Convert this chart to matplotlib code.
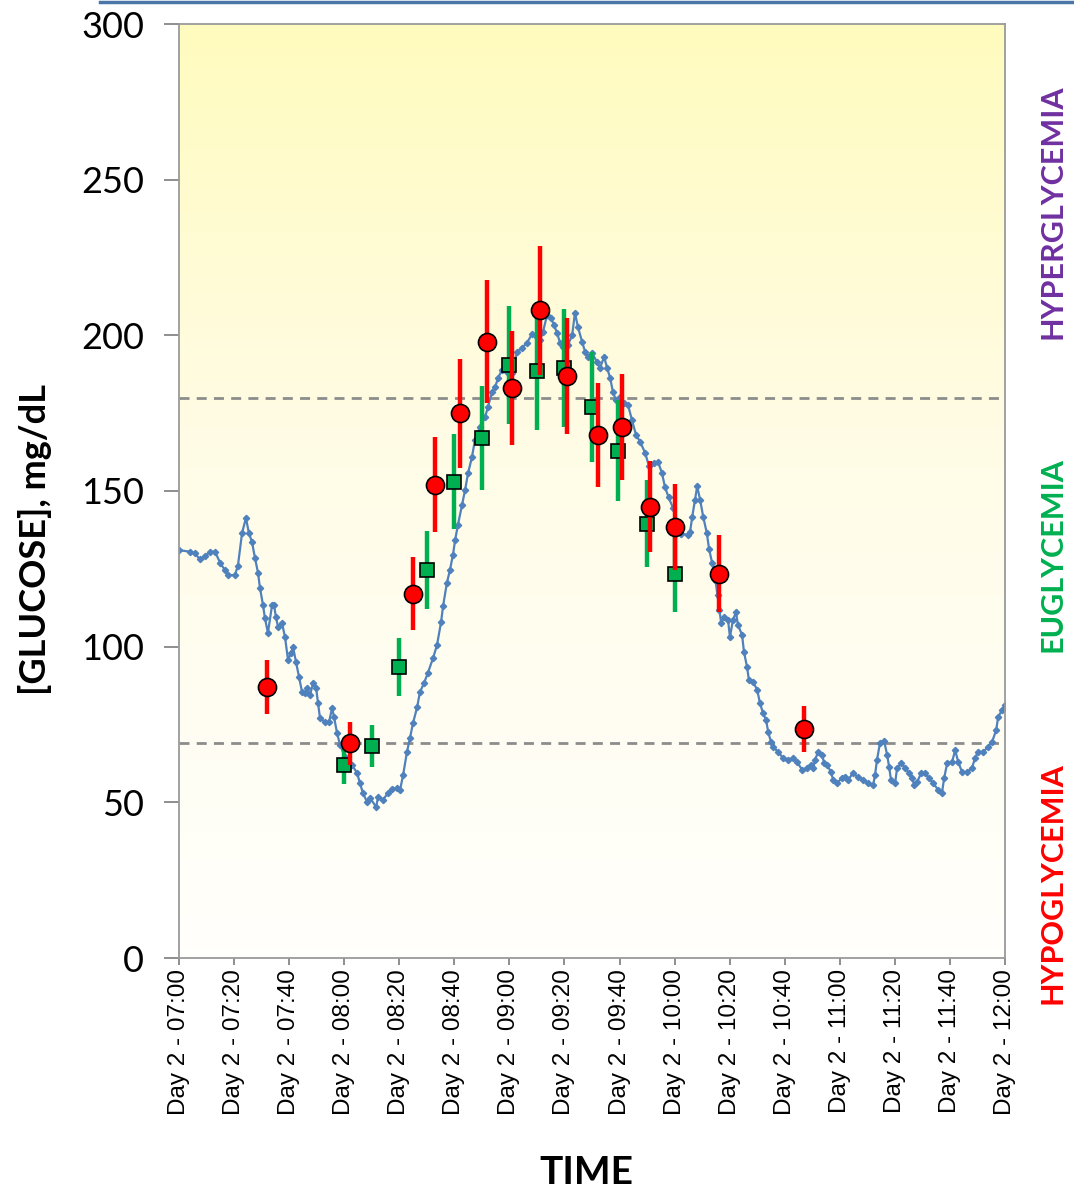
##Glucose chart for day 2, 07:00 to 12:00
##CGM trace plus two reference meters with their error bars

import numpy as np
import matplotlib
matplotlib.use('Agg')
import matplotlib.pyplot as plt
from matplotlib.colors import LinearSegmentedColormap
from matplotlib.lines import Line2D

####Data (minutes after 07:00)
cgmTime = [0, 4, 5.8, 7.6, 9.4, 11.3, 13.1, 14.9, 16.7, 17.8, 20.3, 21.4, 22.9, 24.3,
           25.4, 26.5, 27.6, 28.7, 29.4, 30.5, 31.2, 32.3, 33.8, 34.5, 35.2, 36, 37.4,
           38.5, 39.6, 40.7, 41.4, 42.5, 43.6, 44.7, 45.8, 46.5, 47.6, 48.7, 49.8,
           50.5, 51.2, 53, 54.5, 55.6, 56.3, 57.4, 58.5, 60.3, 62.8, 64.7, 65.7, 66.8,
           68.3, 69.4, 71.6, 72.3, 74.1, 75.9, 77.4, 79.2, 80.3, 81.4, 82.8, 83.9, 85,
           86.5, 87.5, 89, 90.4, 92.3, 93.7, 95.2, 95.9, 97.3, 98.4, 99.5, 100.3,
           101.3, 102.8, 103.9, 105, 106.4, 107.5, 109.3, 111.2, 112.2, 113.7, 114.8,
           115.9, 117.3, 119.1, 121, 122.8, 124.6, 126.4, 128.2, 130, 131.1, 132.2,
           133.7, 135.1, 136.2, 137.3, 138.4, 139.5, 141.3, 142.8, 143.8, 144.9,
           146.4, 147.5, 148.6, 150, 151.8, 152.9, 154.4, 155.5, 156.6, 157.6, 158.7,
           160.2, 161.6, 163.1, 164.5, 166, 167.5, 169.3, 170.7, 172.5, 174, 175.4,
           176.5, 177.8, 179.4, 181, 182.5, 184.7, 185.6, 186.4, 187.4, 188.2, 189.3,
           190.4, 191.7, 192.5, 193.6, 194.9, 195.6, 196.3, 196.9, 198, 199.4, 200.1,
           201.2, 202.3, 203, 204.5, 205.2, 206.3, 207, 208.5, 210, 211, 212.1, 213.2,
           214, 215, 215.8, 217.6, 219.4, 221.2, 223, 224.5, 226.3, 228.1, 229.6,
           230.3, 231, 232.1, 233.6, 234.3, 235.4, 236.8, 237.6, 239, 240.8, 241.9,
           243, 244.8, 246.6, 248.5, 250.3, 252.1, 252.8, 253.5, 254.6, 256.1, 257.2,
           257.9, 258.6, 260.1, 260.8, 262.3, 263.7, 265.2, 266.3, 267, 268.1, 269.5,
           271, 272.4, 273.9, 275.7, 277.1, 277.9, 279, 280.8, 281.9, 283, 284.4,
           286.2, 288, 289.1, 290.2, 292, 293.9, 295.3, 296.8, 297.5, 299, 300]
cgmValue = [131, 130.5, 130, 128, 129, 130.5, 130.5, 127, 124.5, 123, 123, 126, 136.5, 141.3,
            136.5, 133.6, 128.5, 123.7, 118.9, 113.4, 109.2, 104.4, 113.4, 113.4, 109.5,
            106.3, 107.6, 103.1, 95.7, 98, 99.9, 95.1, 90.3, 85.4, 85.1, 86.7, 84.5,
            88.3, 86.7, 81.9, 77.1, 75.8, 75.8, 80.3, 77.4, 72.3, 68.4, 64.6, 62, 59.4,
            56.2, 53, 50.1, 51.4, 48.5, 51.7, 50.8, 53, 54.3, 54.6, 54, 58.8, 66.2,
            70.7, 75.5, 80.6, 85.4, 88.3, 91.6, 96.4, 100.5, 108, 113, 120.5, 124.6,
            129.5, 134.3, 139.1, 145.5, 150.3, 155.8, 160.9, 166.4, 170.6, 173.8, 177,
            181.8, 183.4, 186.3, 188.9, 188.2, 188, 194.7, 196, 197.6, 200.4, 199.5,
            198.5, 201.1, 206.6, 205.6, 203.3, 200.8, 197.6, 196.3, 196.9, 200.1, 207.2,
            202.7, 197.9, 194.7, 193.1, 194.3, 191.5, 189.5, 193.1, 189.5, 186.3, 181.8,
            179.2, 180.2, 178.3, 177.6, 172.8, 168, 165.8, 162.2, 158, 159, 159.3,
            155.8, 151.3, 148, 144.6, 140, 136.2, 136, 136.8, 141.7, 147.1, 151.5, 147,
            141.7, 136.5, 131.5, 127, 121, 116.5, 111.8, 107.6, 109.5, 108.6, 103.1,
            108.6, 111.1, 107, 103.8, 98.3, 93.5, 89.3, 88.7, 86.1, 81.9, 78.7, 76.5,
            72.6, 69.4, 67.8, 66.2, 64.2, 63.6, 64.2, 63, 60.4, 61, 62, 61, 63.6, 66.2,
            65.2, 62.6, 62, 59.7, 57.2, 56.2, 57.8, 58.1, 57.2, 59.4, 58.1, 57.2, 56.2,
            55.6, 58.8, 63.6, 69.1, 69.7, 65.2, 61.4, 57.2, 56.2, 61, 62.6, 61, 59.4,
            57.8, 55.6, 56.5, 59.4, 59.4, 57.8, 56.2, 54, 53, 57.8, 62.6, 63, 66.8, 63,
            59.7, 59.7, 61, 64.2, 66.2, 66.2, 67.8, 69.4, 73.2, 77.4, 79.7, 81.3]

##red circles
refTime = [32, 62, 85, 93, 102, 112, 121, 131, 141, 152, 161, 171, 180, 196, 227]
refValue = [87, 69, 117, 152, 175, 198, 183, 208, 187, 168, 170.5, 145, 138.5, 123.5, 73.5]
refErr = [8.7, 6.9, 11.7, 15.2, 17.5, 19.8, 18.3, 20.8, 18.7, 16.8, 17, 14.5, 13.9, 12.4, 7.4]

##green squares
meterTime = [60, 70, 80, 90, 100, 110, 120, 130, 140, 150, 159.5, 170, 180]
meterValue = [62, 68, 93.5, 124.5, 153, 167, 190.5, 188.5, 189.5, 177, 163, 139.5, 123.5]
meterErr = [6.2, 6.8, 9.4, 12.5, 15.3, 16.7, 19, 18.9, 19, 17.7, 16.3, 14, 12.4]

hyperLimit = 180
hypoLimit = 69

tickTimes = list(range(0, 301, 20))
tickLabels = ['Day 2 - 07:00', 'Day 2 - 07:20', 'Day 2 - 07:40', 'Day 2 - 08:00',
              'Day 2 - 08:20', 'Day 2 - 08:40', 'Day 2 - 09:00', 'Day 2 - 09:20',
              'Day 2 - 09:40', 'Day 2 - 10:00', 'Day 2 - 10:20', 'Day 2 - 10:40',
              'Day 2 - 11:00', 'Day 2 - 11:20', 'Day 2 - 11:40', 'Day 2 - 12:00']

####Figure
fig = plt.figure(figsize=(10.74, 11.9), dpi=100)
ax = fig.add_axes([179/1074, 1 - 958/1190, 826/1074, 934/1190])

##yellow fade in the plot area, strongest at the top
fade = LinearSegmentedColormap.from_list('fade', ['#FFFFFB', '#FFFCE6', '#FFFBBE'])
ax.imshow(np.linspace(0, 1, 256)[::-1, None] ** 1.15, extent=[0, 300, 0, 300], aspect='auto',
          cmap=fade, zorder=0, interpolation='bilinear')

ax.plot([0, 298], [hyperLimit, hyperLimit], color='#8C8C8C', lw=2, dashes=(3.6, 2.6), zorder=1)
ax.plot([0, 298], [hypoLimit, hypoLimit], color='#8C8C8C', lw=2, dashes=(3.6, 2.6), zorder=1)

ax.plot(cgmTime, cgmValue, color='#4F81BD', lw=1.6, marker='D', ms=3.2, zorder=2)

ax.errorbar(meterTime, meterValue, yerr=meterErr, fmt='s', color='#00B050', ecolor='#00B050',
            elinewidth=3.2, capsize=0, ms=10, mec='black', mew=1.2, zorder=3)
ax.errorbar(refTime, refValue, yerr=refErr, fmt='o', color='#FF0000', ecolor='#FF0000',
            elinewidth=3.2, capsize=0, ms=13, mec='black', mew=1.2, zorder=4)

ax.set_xlim(0, 300)
ax.set_ylim(0, 300)
ax.set_xticks(tickTimes)
ax.set_xticklabels(tickLabels, rotation=90, fontsize=17.5, family='Liberation Sans')
ax.set_yticks(range(0, 301, 50))
ax.set_yticklabels([str(v) for v in range(0, 301, 50)], fontsize=26, family='Lato')
ax.tick_params(axis='y', length=11, width=1.3, color='#868686', pad=14)
ax.tick_params(axis='x', length=5, width=1.3, color='#868686', pad=3)
for side in ['left', 'bottom', 'top', 'right']:
    ax.spines[side].set_color('#9A9A9A')
    ax.spines[side].set_linewidth(1.3)

fig.text(35/1074, 1 - 540/1190, '[GLUCOSE], mg/dL', rotation=90, ha='center', va='center',
         fontsize=26, fontweight='bold', family='Lato')
fig.text(586/1074, 1 - 1172/1190, 'TIME', ha='center', va='center',
         fontsize=28, fontweight='bold', family='Lato')

fig.text(1053/1074, 1 - 212/1190, 'HYPERGLYCEMIA', rotation=90, ha='center', va='center',
         fontsize=22, fontweight='bold', family='Lato', color='#7030A0')
fig.text(1053/1074, 1 - 555/1190, 'EUGLYCEMIA', rotation=90, ha='center', va='center',
         fontsize=22, fontweight='bold', family='Lato', color='#00B050')
fig.text(1053/1074, 1 - 883/1190, 'HYPOGLYCEMIA', rotation=90, ha='center', va='center',
         fontsize=22, fontweight='bold', family='Lato', color='#FF0000')

##header rule
fig.add_artist(Line2D([100/1074, 1], [1 - 1.5/1190, 1 - 1.5/1190], color='#4A76A8', lw=2.5))

fig.savefig('out.png', dpi=100)
